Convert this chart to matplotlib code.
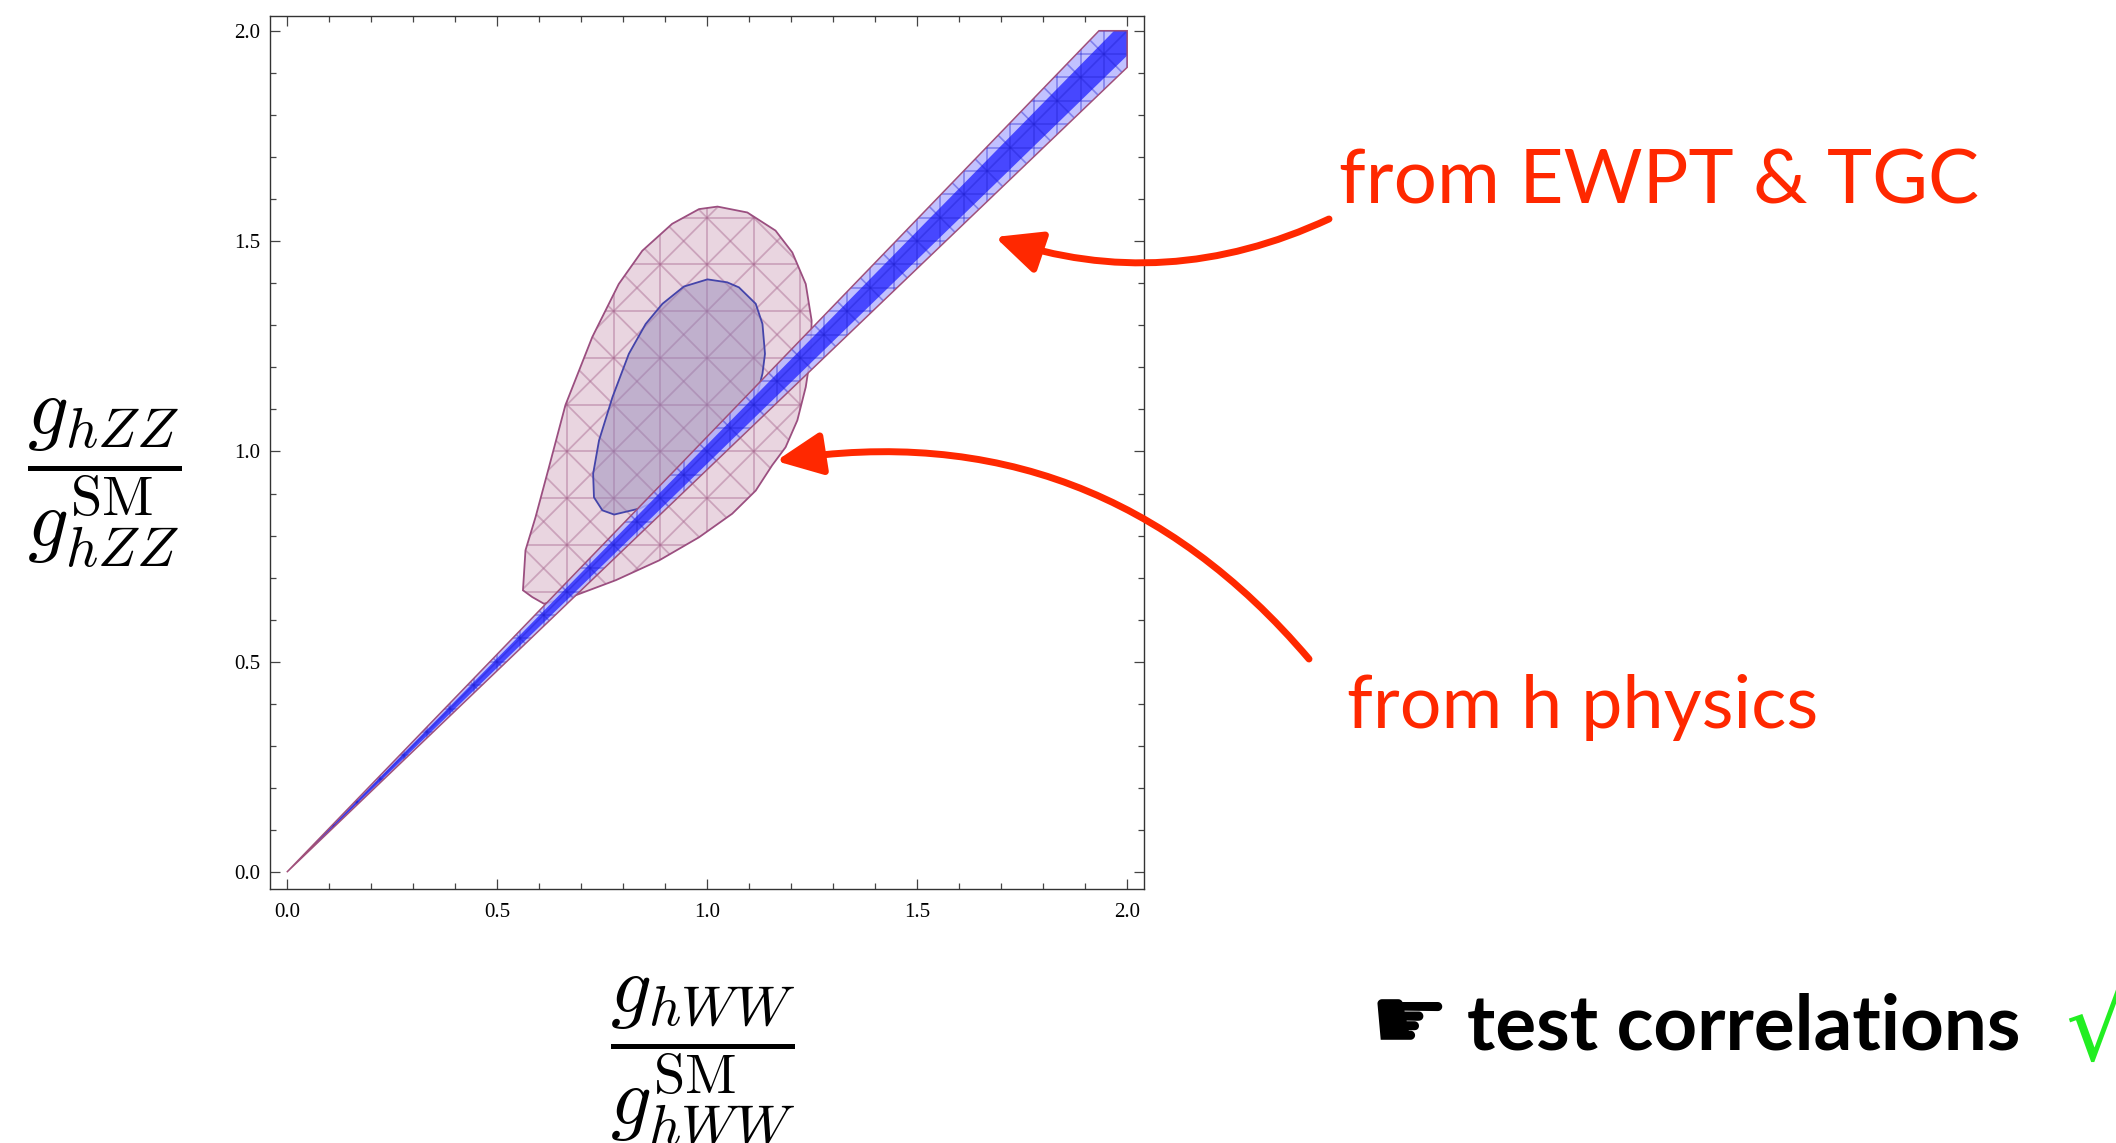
import numpy as np
import matplotlib
matplotlib.use("Agg")
import matplotlib.pyplot as plt
from matplotlib.patches import Polygon
from matplotlib.collections import LineCollection
from matplotlib.ticker import MultipleLocator

# ticks
tick_vals = [0.0, 0.5, 1.0, 1.5, 2.0]
tick_labels = ["0.0", "0.5", "1.0", "1.5", "2.0"]

# h physics, outer contour (g_hWW, g_hZZ)
outer_x = [1.025, 1.096, 1.163, 1.203, 1.235, 1.249, 1.247, 1.235, 1.215, 1.187,
           1.155, 1.116, 1.060, 0.981, 0.886, 0.783, 0.687, 0.612, 0.584, 0.562,
           0.568, 0.592, 0.624, 0.663, 0.727, 0.790, 0.846, 0.917, 0.981]
outer_y = [1.582, 1.568, 1.525, 1.473, 1.398, 1.311, 1.232, 1.153, 1.074, 1.010,
           0.967, 0.907, 0.852, 0.796, 0.741, 0.694, 0.658, 0.638, 0.654, 0.670,
           0.765, 0.844, 0.963, 1.110, 1.272, 1.398, 1.477, 1.541, 1.576]

# h physics, inner contour
inner_x = [1.001, 1.048, 1.076, 1.116, 1.132, 1.138, 1.132, 1.120, 1.092, 1.052,
           1.013, 0.949, 0.886, 0.838, 0.779, 0.751, 0.731, 0.729, 0.743, 0.775,
           0.814, 0.854, 0.894, 0.945]
inner_y = [1.409, 1.402, 1.390, 1.351, 1.303, 1.232, 1.185, 1.137, 1.074, 1.026,
           0.986, 0.931, 0.884, 0.864, 0.850, 0.860, 0.891, 0.947, 1.026, 1.129,
           1.232, 1.303, 1.351, 1.392]

# EWPT & TGC band: g_hZZ / g_hWW ratio limits
band_outer = (0.9565, 1.0347)
band_inner = (0.9705, 1.0157)
plot_max = 2.0

plt.rcParams["mathtext.fontset"] = "cm"

fig = plt.figure(figsize=(21.16, 11.43), dpi=100)
W, H = 2116, 1143
ax = fig.add_axes([270 / W, 1 - 889 / H, 874 / W, 873 / H])


def band_poly(lo, hi, top):
    return [(0, 0), (top / hi, top), (top, top), (top, lo * top)]


def mesh(step_xy, step_sum, diffs, lo=-0.5, hi=2.5):
    # mesh lines x = k*step, y = k*step, x + y = k*step_sum, x - y = d
    segs = []
    for k in range(int(lo / step_xy) - 1, int(hi / step_xy) + 2):
        v = k * step_xy
        segs.append([(v, lo), (v, hi)])
        segs.append([(lo, v), (hi, v)])
    for k in range(int(2 * lo / step_sum) - 1, int(2 * hi / step_sum) + 2):
        s = k * step_sum
        segs.append([(s - lo, lo), (s - hi, hi)])
    for d in diffs:
        segs.append([(lo + d, lo), (hi + d, hi)])
    return segs


diag9 = np.arange(-27, 28) / 9.0

# outer h-physics region
p_out = Polygon(list(zip(outer_x, outer_y)), closed=True, facecolor="#e9d5e0",
                edgecolor="none", zorder=1)
ax.add_patch(p_out)
lc = LineCollection(mesh(1 / 9, 1 / 9, diag9), colors="#a86890", linewidths=1.3,
                    alpha=0.45, zorder=2)
ax.add_collection(lc)
lc.set_clip_path(p_out)
ax.add_patch(Polygon(list(zip(outer_x, outer_y)), closed=True, facecolor="none",
                     edgecolor="#9b4f80", lw=1.3, zorder=3))

# inner region
p_in = Polygon(list(zip(inner_x, inner_y)), closed=True, facecolor="#9084b8",
               alpha=0.45, edgecolor="none", zorder=4)
ax.add_patch(p_in)
ax.add_patch(Polygon(list(zip(inner_x, inner_y)), closed=True, facecolor="none",
                     edgecolor="#4444aa", lw=1.3, zorder=5))

# EWPT & TGC band
b_out = Polygon(band_poly(*band_outer, plot_max), closed=True, facecolor="#b4b4ff",
                alpha=0.82, edgecolor="none", zorder=6)
ax.add_patch(b_out)
b_in = Polygon(band_poly(*band_inner, plot_max), closed=True, facecolor="#3a3aff",
               alpha=0.9, edgecolor="none", zorder=7)
ax.add_patch(b_in)
lc2 = LineCollection(mesh(1 / 18, 1 / 9, [0.0]), colors="#2020d0", linewidths=1.2,
                     alpha=0.4, zorder=8)
ax.add_collection(lc2)
lc2.set_clip_path(b_out)
ax.add_patch(Polygon(band_poly(*band_outer, plot_max), closed=True, facecolor="none",
                     edgecolor="#a0507a", lw=1.1, zorder=9))

ax.set_xlim(-0.04, 2.04)
ax.set_ylim(-0.04, 2.035)
ax.set_xticks(tick_vals)
ax.set_xticklabels(tick_labels)
ax.set_yticks(tick_vals)
ax.set_yticklabels(tick_labels)
ax.xaxis.set_minor_locator(MultipleLocator(0.1))
ax.yaxis.set_minor_locator(MultipleLocator(0.1))
ax.tick_params(which="both", direction="in", top=True, right=True, color="#444444",
               width=0.9)
ax.tick_params(which="major", length=7.5)
ax.tick_params(which="minor", length=4.5)
ax.tick_params(axis="x", pad=10)
ax.tick_params(axis="y", pad=7)
for lab in ax.get_xticklabels() + ax.get_yticklabels():
    lab.set_fontfamily("Liberation Serif")
    lab.set_fontsize(15)
for sp in ax.spines.values():
    sp.set_color("#333333")
    sp.set_linewidth(1.0)

# axis labels
fig.text(104 / W, 1 - 484 / H, r"$\dfrac{g_{hZZ}}{g_{hZZ}^{\mathrm{SM}}}$",
         ha="center", va="center", fontsize=58)
fig.text(703 / W, 1 - 1062 / H, r"$\dfrac{g_{hWW}}{g_{hWW}^{\mathrm{SM}}}$",
         ha="center", va="center", fontsize=58)

# annotations
red = "#ff2800"
fig.text(1339 / W, 1 - 203 / H, "from EWPT & TGC", color=red, fontsize=55,
         family="Lato", va="baseline")
fig.text(1347 / W, 1 - 728 / H, "from h physics", color=red, fontsize=53,
         family="Lato", va="baseline")
ax.annotate("", xy=(995, H - 237), xytext=(1329, H - 219), xycoords="figure pixels",
            textcoords="figure pixels",
            arrowprops=dict(arrowstyle="-|>,head_length=1.4,head_width=0.65",
                            connectionstyle="arc3,rad=-0.2", color=red, lw=5,
                            mutation_scale=20, shrinkA=0, shrinkB=0))
ax.annotate("", xy=(776, H - 461), xytext=(1309, H - 659), xycoords="figure pixels",
            textcoords="figure pixels",
            arrowprops=dict(arrowstyle="-|>,head_length=1.4,head_width=0.65",
                            connectionstyle="arc3,rad=0.28", color=red, lw=5,
                            mutation_scale=20, shrinkA=0, shrinkB=0))

fig.text(1370 / W, 1 - 1050 / H, "\u261b", color="black", fontsize=64,
         family="DejaVu Sans", va="baseline")
fig.text(1467 / W, 1 - 1050 / H, "test correlations", color="black", fontsize=55,
         family="Lato", weight="bold", va="baseline")
fig.text(2065 / W, 1 - 1060 / H, "\u221a", color="#22ee22", fontsize=70,
         family="DejaVu Sans", va="baseline")

fig.savefig("out.png", dpi=100)
